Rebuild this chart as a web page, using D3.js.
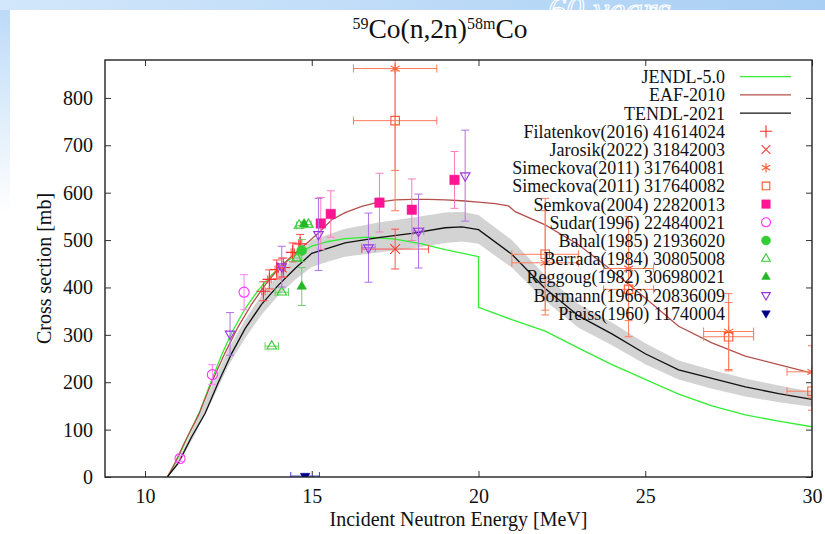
<!DOCTYPE html>
<html>
<head>
<meta charset="utf-8">
<script src="https://cdn.jsdelivr.net/npm/d3@7"></script>
<style>
  body { margin: 0; background: #fff; }
  svg { display: block; }
</style>
</head>
<body>
<div id="chart"></div>
<script>
// Evaluated curves: [energy MeV, cross section mb]
const jendl = [[10.67,0],[10.8,15],[11.0,42],[11.3,88],[11.65,140],[12.0,205],[12.3,258],[12.6,305],[13.0,355],[13.4,395],[13.8,427],[14.2,452],[14.6,472],[15.0,487],[15.5,497],[16.0,503],[16.7,506],[17.5,502],[18.3,492],[19.0,480],[20.0,465],[20.0,358],[21.0,332],[22.0,308],[23.0,272],[24.0,237],[25.0,206],[26.0,175],[27.0,150],[28.0,131],[29.0,118],[30.0,106]];
const eaf = [[10.67,0],[10.9,30],[11.2,75],[11.6,130],[12.0,200],[12.4,262],[12.8,318],[13.2,365],[13.6,405],[14.0,440],[14.4,466],[14.8,490],[15.2,515],[15.6,543],[16.0,558],[16.5,571],[17.0,580],[17.5,585],[18.0,586],[18.5,586],[19.0,585],[19.5,583],[20.0,580],[20.5,577],[20.9,572],[21.1,560],[22.0,532],[23.0,490],[24.0,436],[25.0,378],[26.0,318],[27.0,283],[28.0,255],[29.0,237],[30.0,219]];
const tendl = [[10.67,0],[11.0,30],[11.4,85],[11.8,134],[12.2,200],[12.6,261],[13.0,313],[13.5,365],[14.0,405],[14.5,440],[15.0,472],[15.5,483],[16.0,494],[17.0,505],[18.0,514],[19.0,526],[19.5,528],[20.0,522],[21.0,470],[22.0,398],[23.0,340],[24.0,302],[25.0,260],[26.0,226],[27.0,208],[28.0,190],[29.0,176],[30.0,164]];
// TENDL uncertainty band: [energy, lower, upper]
const tendlBand = [[10.67,0,0],[11.0,25,35],[11.5,90,112],[12.0,160,192],[12.5,235,270],[13.0,293,332],[13.5,343,385],[14.0,383,428],[14.5,416,465],[15.0,443,500],[15.5,455,512],[16.0,465,524],[17.0,474,537],[18.0,482,547],[19.0,494,558],[19.5,497,560],[20.0,492,553],[21.0,442,500],[22.0,372,425],[23.0,315,365],[24.0,278,326],[25.0,238,282],[26.0,206,246],[27.0,186,226],[28.0,170,208],[29.0,158,193],[30.0,148,180]];

// Measurements: [energy, dE, cross section, dXS]
const filatenkov = [[13.55,0.05,392,20],[13.73,0.05,417,20],[13.95,0.05,438,20],[14.15,0.05,442,20],[14.43,0.05,474,20],[14.65,0.05,492,20]];
const jarosik = [[14.1,0.1,442,20],[17.5,1.0,481,42]];
const simeckova081 = [[17.5,1.25,862,300],[22.0,1.0,452,110],[24.5,0.75,440,110],[27.5,0.75,307,80],[30.0,0.75,222,55]];
const simeckova082 = [[17.5,1.25,752,105],[22.0,1.0,470,118],[24.5,0.75,396,100],[27.5,0.75,296,72],[30.0,0.75,181,40]];
const semkova = [[15.27,0,535,55],[15.57,0,555,49],[17.03,0,579,62],[18.0,0,564,65],[19.28,0,627,60]];
const sudar = [[11.05,0,39,6],[12.02,0,216,21],[12.97,0,390,37]];
const bahal = [[14.7,0,478,23]];
const berrada = [[13.8,0.2,276,0],[14.1,0.2,390,0],[14.55,0.1,462,0],[14.62,0.08,531,0],[14.9,0.08,533,0]];
const reggoug = [[14.7,0,402,40],[14.77,0,534,5]];
const bormann = [[12.55,0,302,45],[14.1,0.1,444,43],[15.2,0,512,76],[16.7,0.2,484,73],[18.2,0.16,519,78],[19.6,0,636,96]];
const preiss = [[14.8,0.43,2,3]];

const energyTicks = [10, 15, 20, 25, 30];
const xsTicks = [0, 100, 200, 300, 400, 500, 600, 700, 800];

const curveSeries = [
  {name: "JENDL-5.0", data: jendl, color: "#33ee33"},
  {name: "EAF-2010", data: eaf, color: "#b4504b"},
  {name: "TENDL-2021", data: tendl, color: "#111111"}
];
const pointSeries = [
  {name: "Filatenkov(2016) 41614024", data: filatenkov, symbol: d3.symbolPlus, size: 64, fill: false, color: "#ff2a2a", err: "#ff4a4a"},
  {name: "Jarosik(2022) 31842003", data: jarosik, symbol: d3.symbolTimes, size: 64, fill: false, color: "#ff3838", err: "#ff5050"},
  {name: "Simeckova(2011) 317640081", data: simeckova081, symbol: d3.symbolAsterisk, size: 80, fill: false, color: "#ff5a30", err: "#ff7c5c"},
  {name: "Simeckova(2011) 317640082", data: simeckova082, symbol: d3.symbolSquare, size: 72, fill: false, color: "#ff5a30", err: "#ff7c5c"},
  {name: "Semkova(2004) 22820013", data: semkova, symbol: d3.symbolSquare, size: 90, fill: true, color: "#ff1493", err: "#ff7cbf"},
  {name: "Sudar(1996) 224840021", data: sudar, symbol: d3.symbolCircle, size: 80, fill: false, color: "#ff33ff", err: "#ff80ff"},
  {name: "Bahal(1985) 21936020", data: bahal, symbol: d3.symbolCircle, size: 80, fill: true, color: "#33cc33", err: "#66d066"},
  {name: "Berrada(1984) 30805008", data: berrada, symbol: d3.symbolTriangle, size: 40, fill: false, color: "#33cc33", err: "#66d066"},
  {name: "Reggoug(1982) 306980021", data: reggoug, symbol: d3.symbolTriangle, size: 40, fill: true, color: "#22b822", err: "#70cc70"},
  {name: "Bormann(1966) 20836009", data: bormann, symbol: d3.symbolTriangle, size: 40, fill: false, down: true, color: "#9933dd", err: "#b070e8"},
  {name: "Preiss(1960) 11740004", data: preiss, symbol: d3.symbolTriangle, size: 40, fill: true, down: true, color: "#000088", err: "#3344cc"}
];

const width = 825;
const height = 534;
const plot = {left: 105, top: 60, right: 812, bottom: 477};
const serif = "'Liberation Serif', 'Times New Roman', serif";

const svg = d3.select("#chart")
  .append("svg")
    .attr("width", width)
    .attr("height", height)
    .style("font-family", serif);

/* slide background */
const defs = svg.append("defs");
const sideGrad = defs.append("linearGradient")
    .attr("id", "sideGrad").attr("x1", 0).attr("y1", 0).attr("x2", 0).attr("y2", 1);
sideGrad.append("stop").attr("offset", "0%").attr("stop-color", "#b9d9f7");
sideGrad.append("stop").attr("offset", "40%").attr("stop-color", "#ffffff");
const topGrad = defs.append("linearGradient")
    .attr("id", "topGrad").attr("x1", 0).attr("y1", 0).attr("x2", 1).attr("y2", 0);
topGrad.append("stop").attr("offset", "0%").attr("stop-color", "#d2e7fb");
topGrad.append("stop").attr("offset", "100%").attr("stop-color", "#a9cff4");

svg.append("rect").attr("width", 10).attr("height", height).attr("fill", "url(#sideGrad)");
svg.append("rect").attr("width", width).attr("height", 10).attr("fill", "url(#topGrad)");
svg.append("text")
    .text("60 years")
    .attr("x", 548).attr("y", 22)
    .attr("font-size", 36).attr("font-style", "italic")
    .attr("fill", "none").attr("stroke", "#ffffff").attr("stroke-width", 1.2);
svg.append("rect")
    .attr("x", 10).attr("y", 10).attr("width", width - 10).attr("height", height - 10)
    .attr("fill", "#ffffff");

/* scales */
const xScale = d3.scaleLinear().domain([8.8, 30]).range([plot.left, plot.right]);
const yScale = d3.scaleLinear().domain([0, 880]).range([plot.bottom, plot.top]);

defs.append("clipPath").attr("id", "plotClip")
  .append("rect")
    .attr("x", plot.left).attr("y", plot.top)
    .attr("width", plot.right - plot.left).attr("height", plot.bottom - plot.top);

/* axes with inward ticks, mirrored on top/right */
const tickLen = 6;
svg.append("g")
    .attr("transform", `translate(0, ${plot.bottom})`)
    .call(d3.axisBottom(xScale).tickValues(energyTicks).tickSizeInner(-tickLen).tickSizeOuter(0).tickPadding(12));
svg.append("g")
    .attr("transform", `translate(0, ${plot.top})`)
    .call(d3.axisTop(xScale).tickValues(energyTicks).tickSizeInner(-tickLen).tickSizeOuter(0).tickFormat(""));
svg.append("g")
    .attr("transform", `translate(${plot.left}, 0)`)
    .call(d3.axisLeft(yScale).tickValues(xsTicks).tickSizeInner(-tickLen).tickSizeOuter(0).tickPadding(12));
svg.append("g")
    .attr("transform", `translate(${plot.right}, 0)`)
    .call(d3.axisRight(yScale).tickValues(xsTicks).tickSizeInner(-tickLen).tickSizeOuter(0).tickFormat(""));
svg.selectAll(".domain").remove();
svg.selectAll(".tick line").attr("stroke", "#333");
svg.selectAll(".tick text")
    .attr("font-family", serif)
    .attr("font-size", 20)
    .attr("fill", "#111");

/* plotted content */
const inner = svg.append("g").attr("clip-path", "url(#plotClip)");

const bandGenerator = d3.area()
  .x(d => xScale(d[0]))
  .y0(d => yScale(d[1]))
  .y1(d => yScale(d[2]));
inner.append("path")
    .attr("d", bandGenerator(tendlBand))
    .attr("fill", "#d3d3d3");

const lineGenerator = d3.line()
  .x(d => xScale(d[0]))
  .y(d => yScale(d[1]));
curveSeries.forEach(s => {
  inner.append("path")
      .attr("d", lineGenerator(s.data))
      .attr("fill", "none")
      .attr("stroke", s.color)
      .attr("stroke-width", 1.3);
});

const cap = 4;
pointSeries.forEach(s => {
  const g = inner.append("g");
  // error bars first
  s.data.forEach(d => {
    const cx = xScale(d[0]), cy = yScale(d[2]);
    if (d[3] > 0) {
      const y1 = yScale(d[2] - d[3]), y2 = yScale(d[2] + d[3]);
      g.append("path")
          .attr("d", `M${cx},${y1}V${y2}M${cx - cap},${y1}H${cx + cap}M${cx - cap},${y2}H${cx + cap}`)
          .attr("fill", "none").attr("stroke", s.err).attr("stroke-width", 1);
    }
    if (d[1] > 0) {
      const x1 = xScale(d[0] - d[1]), x2 = xScale(d[0] + d[1]);
      g.append("path")
          .attr("d", `M${x1},${cy}H${x2}M${x1},${cy - cap}V${cy + cap}M${x2},${cy - cap}V${cy + cap}`)
          .attr("fill", "none").attr("stroke", s.err).attr("stroke-width", 1);
    }
  });
  g.selectAll(".pt")
    .data(s.data)
    .join("path")
      .attr("class", "pt")
      .attr("d", d3.symbol(s.symbol, s.size))
      .attr("transform", d => `translate(${xScale(d[0])}, ${yScale(d[2])})${s.down ? " rotate(180)" : ""}`)
      .attr("fill", s.fill ? s.color : "none")
      .attr("stroke", s.color)
      .attr("stroke-width", s.fill ? 0.5 : 1.1);
});

/* frame */
svg.append("rect")
    .attr("x", plot.left).attr("y", plot.top)
    .attr("width", plot.right - plot.left).attr("height", plot.bottom - plot.top)
    .attr("fill", "none").attr("stroke", "#222").attr("stroke-width", 1.4);

/* legend */
const legendTextX = 725;
const legendRow = i => 76.7 + i * 18.2;
const legend = svg.append("g").attr("font-size", 18).attr("fill", "#111");
curveSeries.forEach((s, i) => {
  legend.append("text")
      .text(s.name)
      .attr("x", legendTextX).attr("y", legendRow(i) + 6.5)
      .attr("text-anchor", "end");
  legend.append("line")
      .attr("x1", 740).attr("x2", 791)
      .attr("y1", legendRow(i)).attr("y2", legendRow(i))
      .attr("stroke", s.color).attr("stroke-width", 1.3);
});
pointSeries.forEach((s, j) => {
  const i = j + curveSeries.length;
  legend.append("text")
      .text(s.name)
      .attr("x", legendTextX).attr("y", legendRow(i) + 6.5)
      .attr("text-anchor", "end");
  legend.append("path")
      .attr("d", d3.symbol(s.symbol, s.size * 0.8))
      .attr("transform", `translate(766, ${legendRow(i)})${s.down ? " rotate(180)" : ""}`)
      .attr("fill", s.fill ? s.color : "none")
      .attr("stroke", s.color)
      .attr("stroke-width", s.fill ? 0.5 : 1.1);
});

/* axis titles */
svg.append("text")
    .text("Incident Neutron Energy [MeV]")
    .attr("x", (plot.left + plot.right) / 2).attr("y", 526)
    .attr("text-anchor", "middle")
    .attr("font-size", 20).attr("fill", "#111");
svg.append("text")
    .text("Cross section [mb]")
    .attr("transform", `translate(51, ${(plot.top + plot.bottom) / 2}) rotate(-90)`)
    .attr("text-anchor", "middle")
    .attr("font-size", 20).attr("fill", "#111");

/* title with superscripts */
const title = svg.append("text")
    .attr("x", 440).attr("y", 38)
    .attr("text-anchor", "middle")
    .attr("font-size", 27.5).attr("fill", "#111");
title.append("tspan").text("59").attr("font-size", 16).attr("dy", -9);
title.append("tspan").text("Co(n,2n)").attr("dy", 9);
title.append("tspan").text("58m").attr("font-size", 16).attr("dy", -9);
title.append("tspan").text("Co").attr("dy", 9);
</script>
</body>
</html>
